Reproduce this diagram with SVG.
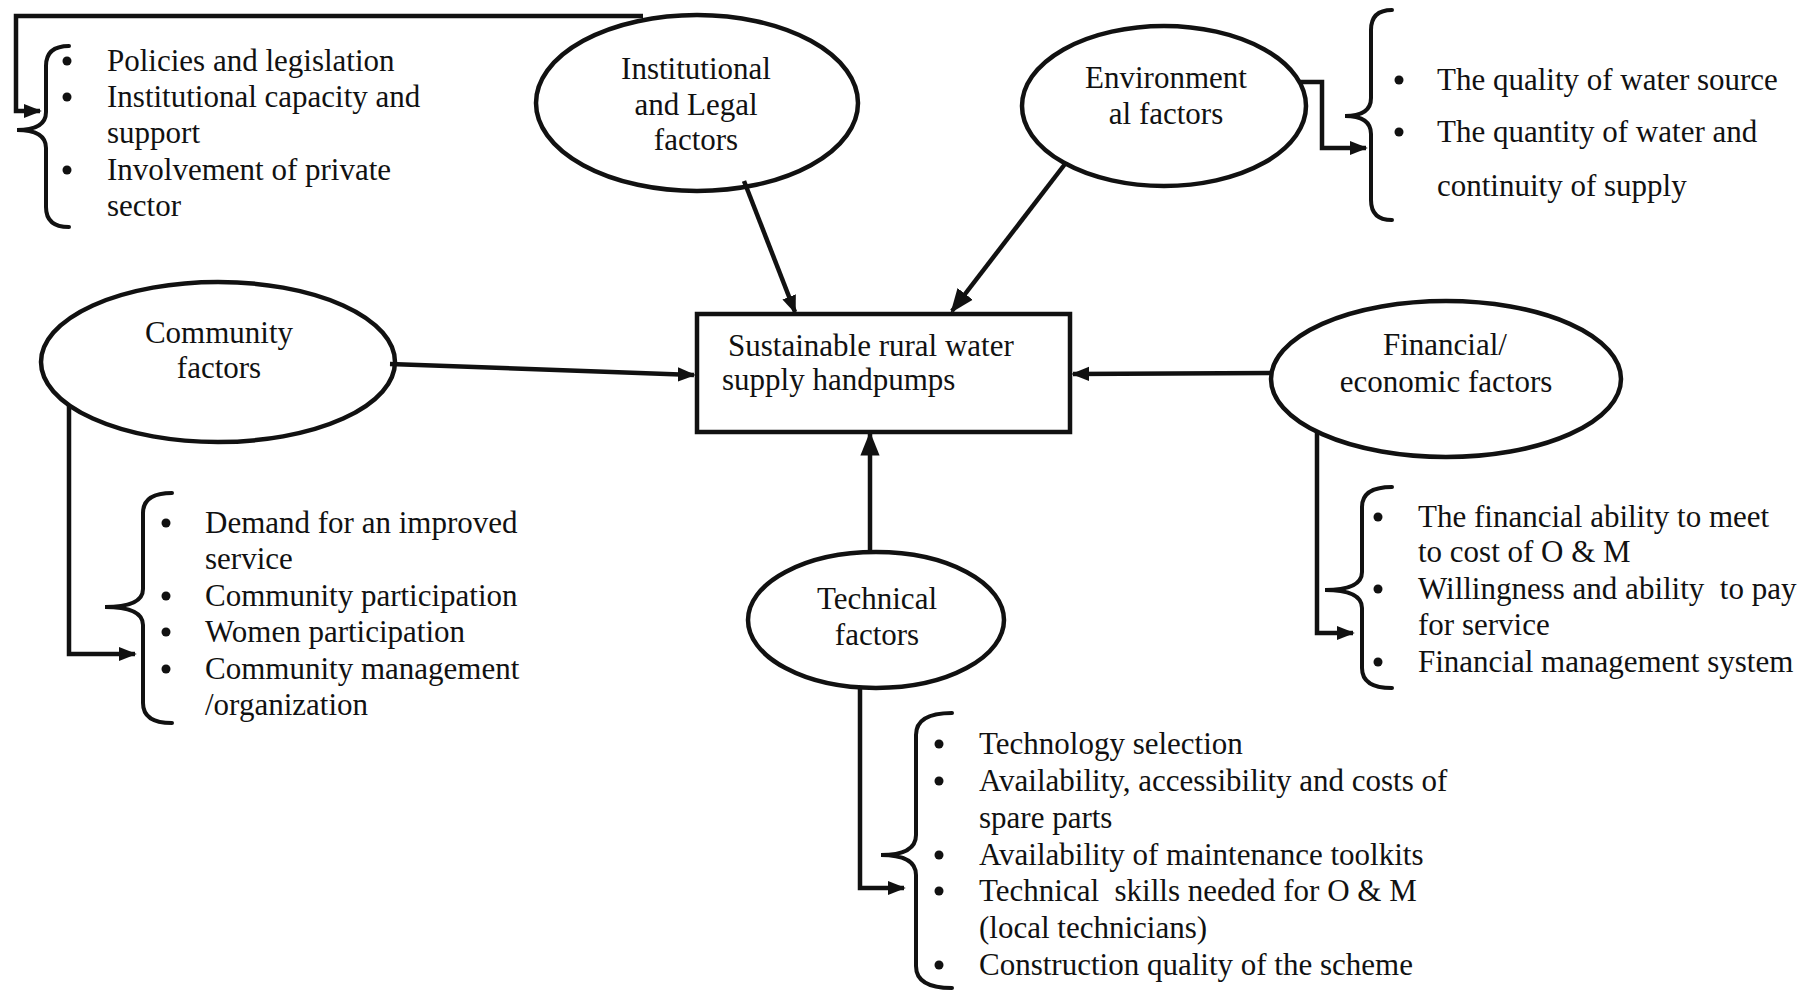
<svg xmlns="http://www.w3.org/2000/svg" width="1800" height="992" viewBox="0 0 1800 992">
<style>
text{font-family:"Liberation Serif","Times New Roman",serif;font-size:31px;fill:#111;white-space:pre}
.c{text-anchor:middle}
.node{fill:none;stroke:#111;stroke-width:4.5}
.ln{fill:none;stroke:#111;stroke-width:4.5}
.br{fill:none;stroke:#111;stroke-width:4;stroke-linecap:round}
.dot{fill:#111}
</style>
<defs>
<marker id="ah" viewBox="0 0 10 10" refX="9" refY="5" markerWidth="18" markerHeight="18" markerUnits="userSpaceOnUse" orient="auto"><path d="M0,1 L10,5 L0,9 z" fill="#111"/></marker>
<marker id="ahb" viewBox="0 0 10 10" refX="9" refY="5" markerWidth="24" markerHeight="24" markerUnits="userSpaceOnUse" orient="auto"><path d="M0,1 L10,5 L0,9 z" fill="#111"/></marker>
</defs>
<rect width="1800" height="992" fill="#fff"/>

<g id="connectors">
<path class="ln" d="M643,16 L16,16 L16,111 L40,111" marker-end="url(#ah)"/>
<path class="ln" d="M1299,82 L1322,82 L1322,148 L1366,148" marker-end="url(#ah)"/>
<path class="ln" d="M69,405 L69,654 L135,654" marker-end="url(#ah)"/>
<path class="ln" d="M1317,432 L1317,633 L1353,633" marker-end="url(#ah)"/>
<path class="ln" d="M860,688 L860,888 L904,888" marker-end="url(#ah)"/>
<line class="ln" x1="744" y1="181" x2="795" y2="312" marker-end="url(#ah)"/>
<line class="ln" x1="1065" y1="164" x2="952" y2="311" stroke-width="8" marker-end="url(#ahb)"/>
<line class="ln" x1="390" y1="364" x2="694" y2="375" marker-end="url(#ah)"/>
<line class="ln" x1="1271" y1="373" x2="1073" y2="374" marker-end="url(#ah)"/>
<line class="ln" x1="870" y1="552" x2="870" y2="434" stroke-width="6" marker-end="url(#ahb)"/>
</g>

<g id="center">
<rect class="node" x="697" y="314" width="373" height="118"/>
<text x="728" y="356">Sustainable rural water</text>
<text x="722" y="390">supply handpumps</text>
</g>

<g id="institutional">
<ellipse class="node" cx="697" cy="103" rx="161" ry="88"/>
<text class="c" x="696" y="79">Institutional</text>
<text class="c" x="696" y="115">and Legal</text>
<text class="c" x="696" y="150">factors</text>
</g>

<g id="institutional-list">
<path class="br" d="M69,46 Q46,46 46,66 L46,112 Q46,130 17,130 Q46,130 46,148 L46,207 Q46,227 69,227"/>
<circle class="dot" cx="67" cy="61" r="4.5"/>
<circle class="dot" cx="67" cy="97" r="4.5"/>
<circle class="dot" cx="67" cy="170" r="4.5"/>
<text x="107" y="71">Policies and legislation</text>
<text x="107" y="107">Institutional capacity and</text>
<text x="107" y="143">support</text>
<text x="107" y="180">Involvement of private</text>
<text x="107" y="216">sector</text>
</g>

<g id="environmental">
<ellipse class="node" cx="1164" cy="106" rx="142" ry="80"/>
<text class="c" x="1166" y="88">Environment</text>
<text class="c" x="1166" y="124">al factors</text>
</g>

<g id="environmental-list">
<path class="br" d="M1392,10 Q1371,10 1371,30 L1371,98 Q1371,116 1345,116 Q1371,116 1371,134 L1371,200 Q1371,220 1392,220"/>
<circle class="dot" cx="1399" cy="80" r="4.5"/>
<circle class="dot" cx="1399" cy="132" r="4.5"/>
<text x="1437" y="90">The quality of water source</text>
<text x="1437" y="142">The quantity of water and</text>
<text x="1437" y="196">continuity of supply</text>
</g>

<g id="community">
<ellipse class="node" cx="218" cy="362" rx="177" ry="80"/>
<text class="c" x="219" y="343">Community</text>
<text class="c" x="219" y="378">factors</text>
</g>

<g id="community-list">
<path class="br" d="M172,493 Q143,493 143,513 L143,589 Q143,607 105,607 Q143,607 143,625 L143,703 Q143,723 172,723"/>
<circle class="dot" cx="166" cy="523" r="4.5"/>
<circle class="dot" cx="166" cy="596" r="4.5"/>
<circle class="dot" cx="166" cy="632" r="4.5"/>
<circle class="dot" cx="166" cy="669" r="4.5"/>
<text x="205" y="533">Demand for an improved</text>
<text x="205" y="569">service</text>
<text x="205" y="606">Community participation</text>
<text x="205" y="642">Women participation</text>
<text x="205" y="679">Community management</text>
<text x="205" y="715">/organization</text>
</g>

<g id="financial">
<ellipse class="node" cx="1446" cy="379" rx="175" ry="78"/>
<text class="c" x="1445" y="355">Financial/</text>
<text class="c" x="1446" y="392">economic factors</text>
</g>

<g id="financial-list">
<path class="br" d="M1392,487 Q1362,487 1362,507 L1362,572 Q1362,590 1325,590 Q1362,590 1362,608 L1362,668 Q1362,688 1392,688"/>
<circle class="dot" cx="1378" cy="517" r="4.5"/>
<circle class="dot" cx="1378" cy="589" r="4.5"/>
<circle class="dot" cx="1378" cy="662" r="4.5"/>
<text x="1418" y="527">The financial ability to meet</text>
<text x="1418" y="562">to cost of O &amp; M</text>
<text x="1418" y="599">Willingness and ability  to pay</text>
<text x="1418" y="635">for service</text>
<text x="1418" y="672">Financial management system</text>
</g>

<g id="technical">
<ellipse class="node" cx="876" cy="620" rx="128" ry="68"/>
<text class="c" x="877" y="609">Technical</text>
<text class="c" x="877" y="645">factors</text>
</g>

<g id="technical-list">
<path class="br" d="M952,713 Q916,713 916,735 L916,835 Q916,855 881,855 Q916,855 916,875 L916,966 Q916,988 952,988"/>
<circle class="dot" cx="939" cy="744" r="4.5"/>
<circle class="dot" cx="939" cy="781" r="4.5"/>
<circle class="dot" cx="939" cy="855" r="4.5"/>
<circle class="dot" cx="939" cy="891" r="4.5"/>
<circle class="dot" cx="939" cy="965" r="4.5"/>
<text x="979" y="754">Technology selection</text>
<text x="979" y="791">Availability, accessibility and costs of</text>
<text x="979" y="828">spare parts</text>
<text x="979" y="865">Availability of maintenance toolkits</text>
<text x="979" y="901">Technical  skills needed for O &amp; M</text>
<text x="979" y="938">(local technicians)</text>
<text x="979" y="975">Construction quality of the scheme</text>
</g>
</svg>
